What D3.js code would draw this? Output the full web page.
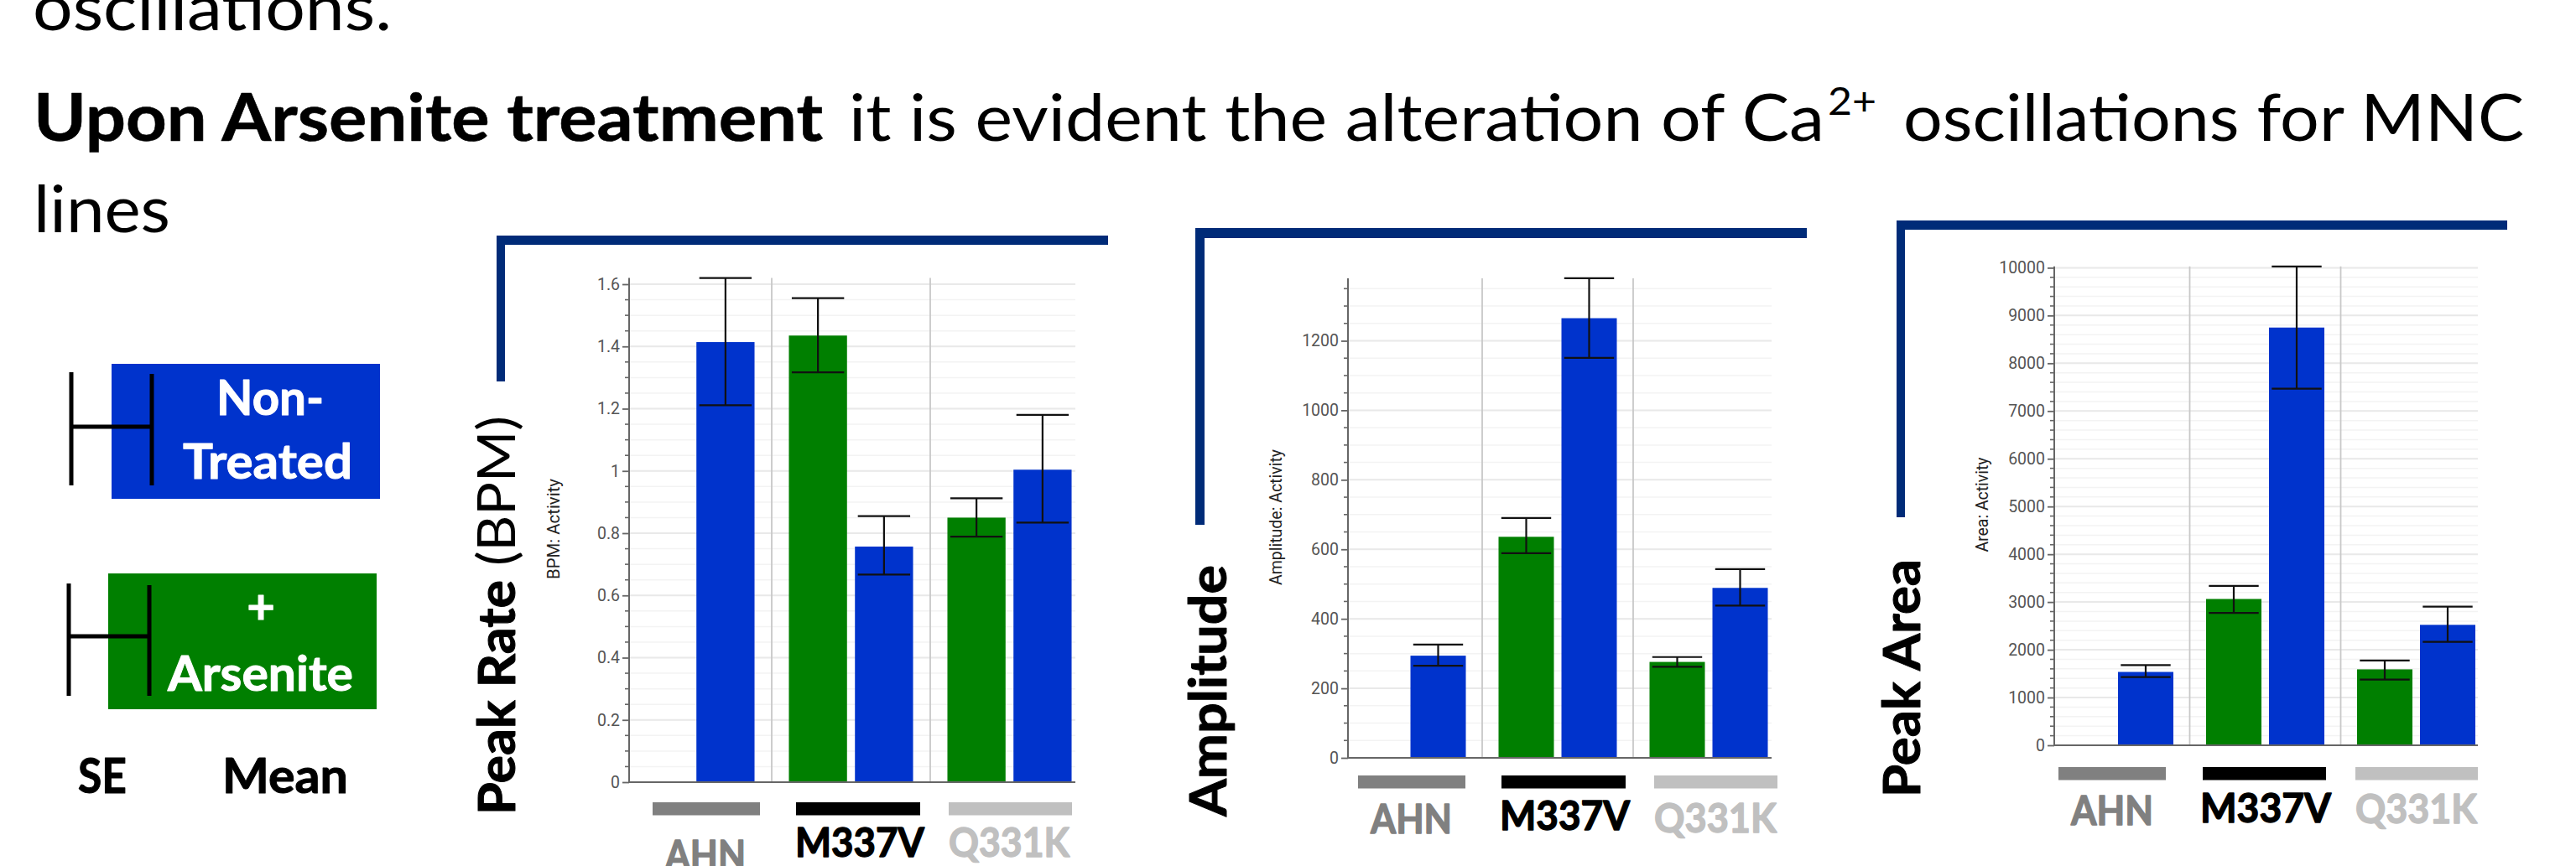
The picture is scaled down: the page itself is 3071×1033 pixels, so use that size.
<!DOCTYPE html>
<html><head><meta charset="utf-8">
<script src="https://cdn.jsdelivr.net/npm/d3@7/dist/d3.min.js"></script>
<style>html,body{margin:0;padding:0;background:#fff;overflow:hidden}svg{display:block}</style>
</head><body>
<svg id="c" width="3071" height="1033"></svg>
<script>
// ---------------- DATA ----------------
const groups = ["AHN", "M337V", "Q331K"];
const seriesNames = ["+ Arsenite", "Non-Treated"];

// Peak Rate (BPM)
const rateArsenite    = [null, 1.435, 0.850];
const rateArseniteLo  = [null, 1.317, 0.789];
const rateArseniteHi  = [null, 1.555, 0.912];
const rateNonTreated  = [1.414, 0.757, 1.004];
const rateNonTreatedLo= [1.211, 0.667, 0.834];
const rateNonTreatedHi= [1.620, 0.855, 1.180];
const rateTicks = [0, 0.2, 0.4, 0.6, 0.8, 1, 1.2, 1.4, 1.6];
const rateTickLabels = ["0", "0.2", "0.4", "0.6", "0.8", "1", "1.2", "1.4", "1.6"];

// Amplitude
const ampArsenite    = [null, 636, 276];
const ampArseniteLo  = [null, 589, 262];
const ampArseniteHi  = [null, 690, 290];
const ampNonTreated  = [294, 1265, 489];
const ampNonTreatedLo= [265, 1151, 438];
const ampNonTreatedHi= [326, 1380, 543];
const ampTicks = [0, 200, 400, 600, 800, 1000, 1200];
const ampTickLabels = ["0", "200", "400", "600", "800", "1000", "1200"];

// Peak Area
const areaArsenite    = [null, 3064, 1590];
const areaArseniteLo  = [null, 2771, 1377];
const areaArseniteHi  = [null, 3339, 1776];
const areaNonTreated  = [1536, 8748, 2522];
const areaNonTreatedLo= [1430, 7469, 2167];
const areaNonTreatedHi= [1678, 10027, 2904];
const areaTicks = [0, 1000, 2000, 3000, 4000, 5000, 6000, 7000, 8000, 9000, 10000];
const areaTickLabels = ["0", "1000", "2000", "3000", "4000", "5000", "6000", "7000", "8000", "9000", "10000"];

// ---------------- STYLE ----------------
const BLUE = "#0033CC", GREEN = "#007F00", NAVY = "#002B78";
const groupColors = ["#808080", "#000000", "#C0C0C0"];
const FONT = "Lato, 'Open Sans', sans-serif";
const TICKFONT = "Roboto, sans-serif";

const svg = d3.select("#c");

function txt(parent, s, x, y, size, weight, fill, len, anchor, stroke) {
  const t = parent.append("text").attr("x", x).attr("y", y)
    .attr("font-family", FONT).attr("font-size", size).attr("font-weight", weight)
    .attr("fill", fill).text(s);
  if (anchor) t.attr("text-anchor", anchor);
  if (len) t.attr("textLength", len).attr("lengthAdjust", "spacingAndGlyphs");
  if (stroke) t.attr("stroke", fill).attr("stroke-width", stroke).attr("stroke-linejoin", "round");
  return t;
}

// ---------------- HEADER TEXT ----------------
txt(svg, "oscillations.", 39, 36, 78, 400, "#000", 428);
txt(svg, "Upon Arsenite treatment", 40, 168, 78, 700, "#000", 941, null, 0.6);
txt(svg, "it is evident the alteration of Ca", 1012, 168, 78, 400, "#000", 1163);
txt(svg, "2+", 2179, 137, 46, 400, "#000", 58);
txt(svg, "oscillations for MNC", 2269, 168, 78, 400, "#000", 740);
txt(svg, "lines", 40, 277, 78, 400, "#000", 163);

// ---------------- LEGEND ----------------
const lg = svg.append("g");
lg.append("rect").attr("x", 133).attr("y", 434).attr("width", 320).attr("height", 161).attr("fill", BLUE);
lg.append("rect").attr("x", 129).attr("y", 684).attr("width", 320).attr("height", 162).attr("fill", GREEN);
txt(lg, "Non-", 258, 495, 58, 700, "#fff", 128, null, 1);
txt(lg, "Treated", 218, 571, 58, 700, "#fff", 202, null, 1);
txt(lg, "+", 311, 744, 58, 700, "#fff", null, "middle", 1);
txt(lg, "Arsenite", 200, 824, 58, 700, "#fff", 221, null, 1);
txt(lg, "SE", 93, 946, 57, 700, "#000", 58, null, 1);
txt(lg, "Mean", 265, 946, 57, 700, "#000", 150, null, 1);
function legendBar(x0, x1, y0, y1, ym) {
  const p = d3.path();
  p.moveTo(x0, y0); p.lineTo(x0, y1);
  p.moveTo(x0, ym); p.lineTo(x1, ym);
  p.moveTo(x1, y0 + 2); p.lineTo(x1, y1);
  lg.append("path").attr("d", p.toString()).attr("stroke", "#000").attr("stroke-width", 5).attr("fill", "none");
}
legendBar(85, 181, 444, 579, 509);
legendBar(82, 178, 696, 830, 759);

// ---------------- CHARTS ----------------
const charts = [
  { arsen: rateArsenite, arsenLo: rateArseniteLo, arsenHi: rateArseniteHi,
    nt: rateNonTreated, ntLo: rateNonTreatedLo, ntHi: rateNonTreatedHi,
    ticks: rateTicks, tickLabels: rateTickLabels, minorStep: 0.05,
    axisX: 750, right: 1282, zeroY: 933, refVal: 1.6, refY: 339,
    band: [731, 1298], yLabel: "BPM: Activity", yLabelX: 667, yLabelCY: 631, yLabelLen: 120,
    bracket: { x0: 592, x1: 1321, y0: 281, y1: 455, t: 11 },
    titleX: 614, titleY0: 972, titleParts: [["Peak Rate", 700, 280], [" (BPM)", 400, 196]],
    gbarY: 957, gbars: [[778, 906], [949, 1097], [1131, 1278]],
    glabels: [[793, 889, 1037], [948, 1102, 1022], [1131, 1275, 1022]] },
  { arsen: ampArsenite, arsenLo: ampArseniteLo, arsenHi: ampArseniteHi,
    nt: ampNonTreated, ntLo: ampNonTreatedLo, ntHi: ampNonTreatedHi,
    ticks: ampTicks, tickLabels: ampTickLabels, minorStep: 50,
    axisX: 1607, right: 2112, zeroY: 904, refVal: 1200, refY: 406.5,
    band: [1587, 2127], yLabel: "Amplitude: Activity", yLabelX: 1528, yLabelCY: 617, yLabelLen: 162,
    bracket: { x0: 1425, x1: 2154, y0: 272, y1: 626, t: 12 },
    titleX: 1462, titleY0: 974, titleParts: [["Amplitude", 700, 300]],
    gbarY: 925, gbars: [[1619, 1747], [1790, 1938], [1972, 2119]],
    glabels: [[1634, 1731, 994], [1788, 1943, 990], [1972, 2118, 993]] },
  { arsen: areaArsenite, arsenLo: areaArseniteLo, arsenHi: areaArseniteHi,
    nt: areaNonTreated, ntLo: areaNonTreatedLo, ntHi: areaNonTreatedHi,
    ticks: areaTicks, tickLabels: areaTickLabels, minorStep: 200,
    axisX: 2449, right: 2954, zeroY: 889, refVal: 10000, refY: 319.4,
    band: [2430.5, 2970.5], yLabel: "Area: Activity", yLabelX: 2370, yLabelCY: 602, yLabelLen: 113,
    bracket: { x0: 2261, x1: 2989, y0: 263, y1: 617, t: 11 },
    titleX: 2289, titleY0: 951, titleParts: [["Peak Area", 700, 284]],
    gbarY: 915, gbars: [[2454, 2582], [2626, 2773], [2808, 2954]],
    glabels: [[2469, 2567, 984], [2623, 2779, 981], [2808, 2953, 982]] }
];

charts.forEach(c => {
  const g = svg.append("g");
  const y = d3.scaleLinear().domain([0, c.refVal]).range([c.zeroY, c.refY]);
  const yMax = d3.max(c.ntHi.concat(c.arsenHi).filter(v => v != null));
  const topY = y(yMax);
  const x = d3.scaleBand().domain(groups).range(c.band).padding(0);
  const xi = d3.scaleBand().domain(seriesNames).range([0, x.bandwidth()])
    .paddingInner(0.12).paddingOuter(0.26);

  // gridlines (minor + major)
  const minor = d3.range(0, yMax + 1e-9, c.minorStep);
  g.selectAll(".gmin").data(minor).join("line")
    .attr("x1", c.axisX).attr("x2", c.right).attr("y1", d => y(d)).attr("y2", d => y(d))
    .attr("stroke", "#f3f3f3").attr("stroke-width", 1.5);
  g.selectAll(".gmaj").data(c.ticks).join("line")
    .attr("x1", c.axisX).attr("x2", c.right).attr("y1", d => y(d)).attr("y2", d => y(d))
    .attr("stroke", "#e9e9e9").attr("stroke-width", 2);

  // group separators
  g.selectAll(".sep").data(groups.slice(1)).join("line")
    .attr("x1", d => x(d)).attr("x2", d => x(d)).attr("y1", topY).attr("y2", c.zeroY)
    .attr("stroke", "#c8c8c8").attr("stroke-width", 1.8);

  // bars
  const barData = [];
  groups.forEach((grp, i) => {
    if (c.arsen[i] != null) barData.push({ grp, s: seriesNames[0], v: c.arsen[i], lo: c.arsenLo[i], hi: c.arsenHi[i], col: GREEN });
    if (c.nt[i] != null) barData.push({ grp, s: seriesNames[1], v: c.nt[i], lo: c.ntLo[i], hi: c.ntHi[i], col: BLUE });
  });
  const bw = xi.bandwidth();
  g.selectAll(".bar").data(barData).join("rect")
    .attr("x", d => x(d.grp) + xi(d.s)).attr("width", bw)
    .attr("y", d => y(d.v)).attr("height", d => y(0) - y(d.v))
    .attr("fill", d => d.col);

  // error bars
  const capW = bw * 0.9;
  const eb = g.selectAll(".eb").data(barData).join("g");
  eb.append("line")
    .attr("x1", d => x(d.grp) + xi(d.s) + bw / 2).attr("x2", d => x(d.grp) + xi(d.s) + bw / 2)
    .attr("y1", d => y(d.lo)).attr("y2", d => y(d.hi));
  eb.append("line")
    .attr("x1", d => x(d.grp) + xi(d.s) + bw / 2 - capW / 2).attr("x2", d => x(d.grp) + xi(d.s) + bw / 2 + capW / 2)
    .attr("y1", d => y(d.hi)).attr("y2", d => y(d.hi));
  eb.append("line")
    .attr("x1", d => x(d.grp) + xi(d.s) + bw / 2 - capW / 2).attr("x2", d => x(d.grp) + xi(d.s) + bw / 2 + capW / 2)
    .attr("y1", d => y(d.lo)).attr("y2", d => y(d.lo));
  eb.selectAll("line").attr("stroke", "#111").attr("stroke-width", 2.2);

  // y axis
  const axis = d3.axisLeft(y).tickValues(c.ticks).tickSize(8).tickPadding(3)
    .tickFormat((d, i) => c.tickLabels[i]);
  const ag = g.append("g").attr("transform", `translate(${c.axisX},0)`).call(axis);
  ag.select(".domain").remove();
  ag.selectAll(".tick line").attr("stroke", "#666").attr("stroke-width", 1.8);
  ag.selectAll(".tick text").attr("font-family", TICKFONT).attr("font-size", 19.5).attr("fill", "#555");
  g.selectAll(".mt").data(minor.filter(v => !c.ticks.some(t => Math.abs(t - v) < 1e-9))).join("line")
    .attr("x1", c.axisX - 5).attr("x2", c.axisX).attr("y1", d => y(d)).attr("y2", d => y(d))
    .attr("stroke", "#666").attr("stroke-width", 1.6);
  g.append("line").attr("x1", c.axisX).attr("x2", c.axisX).attr("y1", topY).attr("y2", c.zeroY + 1)
    .attr("stroke", "#666").attr("stroke-width", 2);
  g.append("line").attr("x1", c.axisX).attr("x2", c.right).attr("y1", c.zeroY).attr("y2", c.zeroY)
    .attr("stroke", "#666").attr("stroke-width", 2);

  // small y label
  g.append("text").attr("transform", `translate(${c.yLabelX},${c.yLabelCY}) rotate(-90)`)
    .attr("text-anchor", "middle").attr("font-family", TICKFONT).attr("font-size", 19.5).attr("fill", "#222")
    .attr("textLength", c.yLabelLen).attr("lengthAdjust", "spacingAndGlyphs").text(c.yLabel);

  // bracket
  const b = c.bracket;
  g.append("rect").attr("x", b.x0).attr("y", b.y0).attr("width", b.x1 - b.x0).attr("height", b.t).attr("fill", NAVY);
  g.append("rect").attr("x", b.x0).attr("y", b.y0).attr("width", b.t - 1).attr("height", b.y1 - b.y0).attr("fill", NAVY);

  // big rotated title
  let yy = c.titleY0;
  c.titleParts.forEach(([s, w, len]) => {
    const t = g.append("text").attr("transform", `translate(${c.titleX},${yy}) rotate(-90)`)
      .attr("font-family", FONT).attr("font-size", 62).attr("font-weight", w).attr("fill", "#000")
      .attr("textLength", len).attr("lengthAdjust", "spacingAndGlyphs").attr("xml:space", "preserve").text(s);
    if (w === 700) t.attr("stroke", "#000").attr("stroke-width", 1).attr("stroke-linejoin", "round");
    yy -= len;
  });

  // group colour bars and labels
  g.selectAll(".gb").data(groups).join("rect")
    .attr("x", (d, i) => c.gbars[i][0]).attr("width", (d, i) => c.gbars[i][1] - c.gbars[i][0])
    .attr("y", c.gbarY).attr("height", 15.5).attr("fill", (d, i) => groupColors[i]);
  groups.forEach((grp, i) => {
    const L = c.glabels[i];
    txt(g, grp, L[0], L[2], 48, 700, groupColors[i], L[1] - L[0], null, 1.4);
  });
});
</script>
</body></html>
